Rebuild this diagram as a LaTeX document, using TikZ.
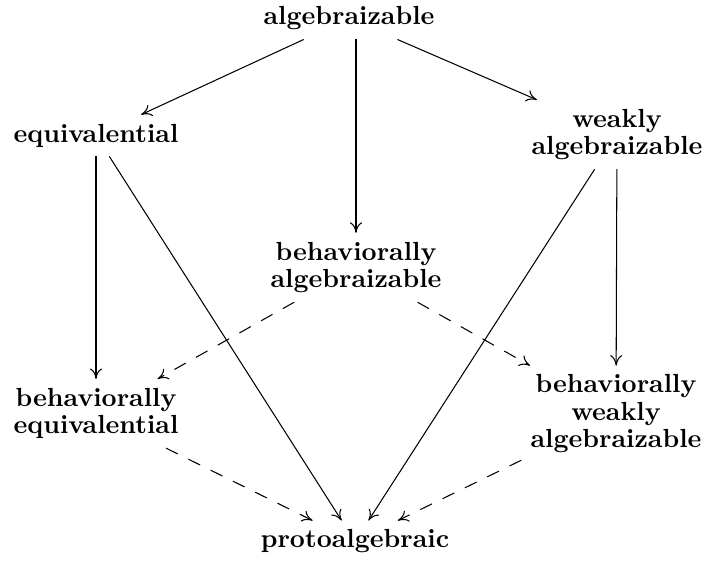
\documentclass[tikz,border=0pt]{standalone}
\usetikzlibrary{arrows.meta}
\begin{document}
\begin{tikzpicture}[x=0.382pt, y=-0.382pt,
  cls/.style={font=\bfseries\fontsize{10}{10.5}\selectfont, align=center},
  impl/.style={-{To[length=4pt,width=4.6pt]}},
  bimpl/.style={impl, dash pattern=on 5pt off 4.5pt}]
\useasboundingbox (0,0) rectangle (704,564);
% classes
\node[cls] (alg) at (349,18.5) {algebraizable};
\node[cls] (equiv) at (96,135.5) {equivalential};
\node[cls] (walg) at (617,134.5) {weakly\\algebraizable};
\node[cls] (balg) at (356,267.5) {behaviorally\\algebraizable};
\node[cls] (bequiv) at (96,413.5) {behaviorally\\equivalential};
\node[cls] (bwalg) at (616,414) {behaviorally\\weakly\\algebraizable};
\node[cls] (proto) at (355,541.5) {protoalgebraic};
% solid implications
\draw[impl] (alg) -- (equiv);
\draw[impl] (alg.south -| balg.north) -- (balg);
\draw[impl] (alg) -- (walg);
\draw[impl] (equiv) -- (bequiv);
\draw[impl] (equiv) -- (proto);
\draw[impl] (walg) -- (bwalg);
\draw[impl] (walg) -- (proto);
% behavioral implications
\draw[bimpl] (balg) -- (bequiv);
\draw[bimpl] (balg) -- (bwalg);
\draw[bimpl] (bequiv) -- (proto);
\draw[bimpl] (bwalg) -- (proto);
\end{tikzpicture}
\end{document}
